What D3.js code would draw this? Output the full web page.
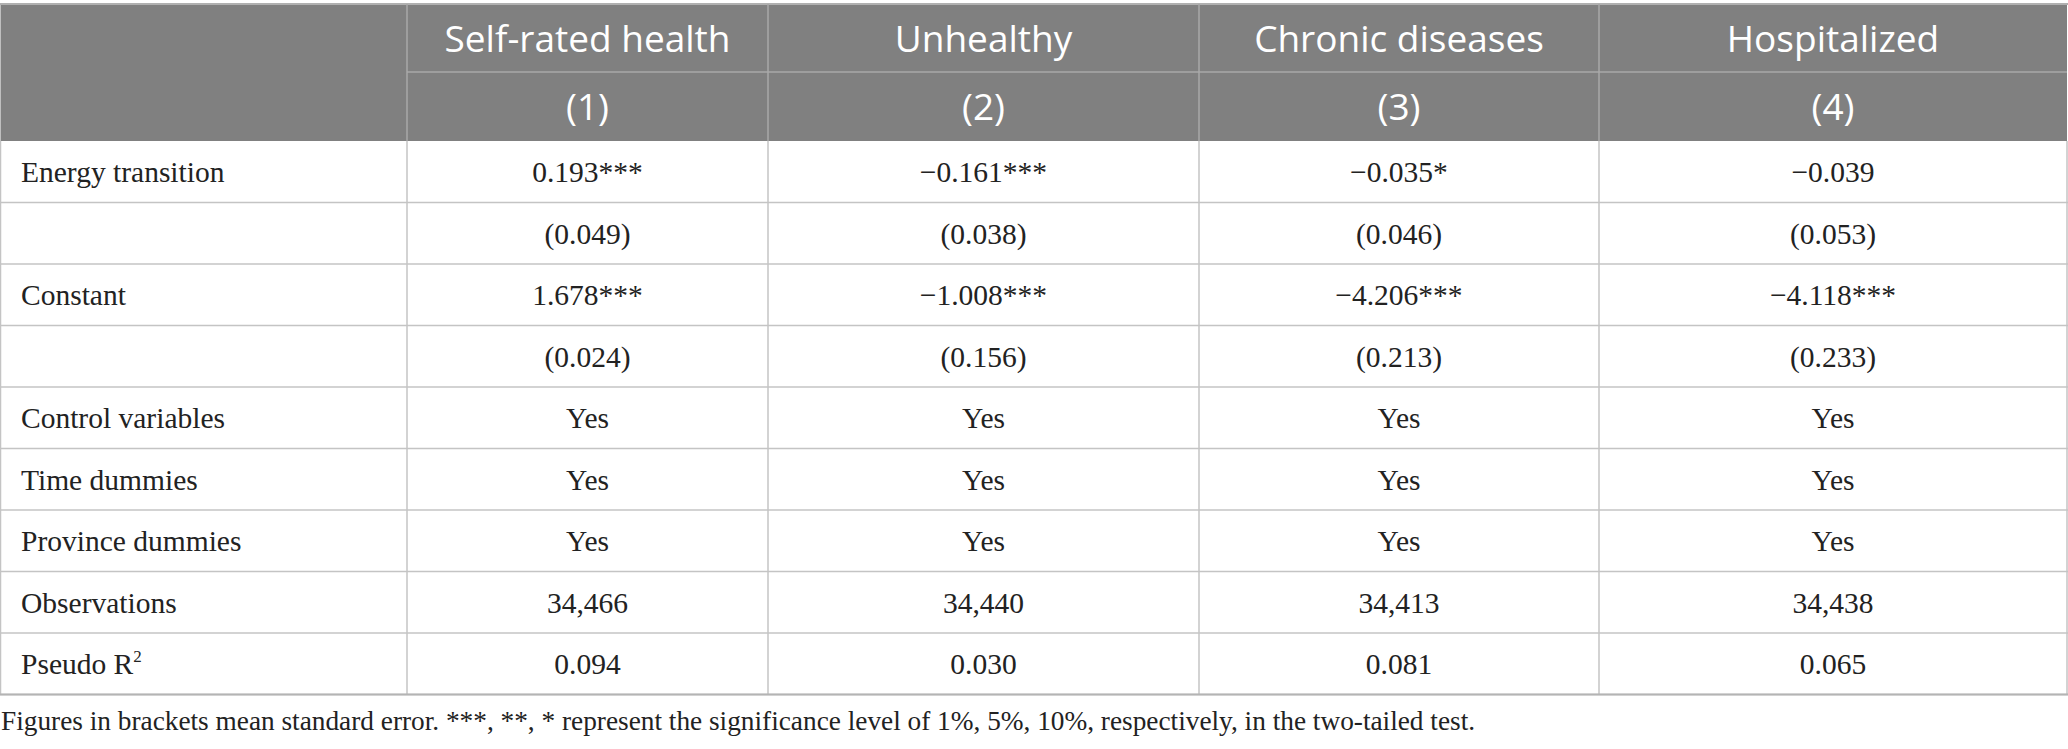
<!DOCTYPE html>
<html lang="en">
<head>
    <meta charset="UTF-8">
    <title>regression-table</title>
    <script src="https://cdn.jsdelivr.net/npm/d3@7"></script>
</head>
<body style="margin: 0; background: #fff;">
<div id="container"></div>
<script>
    // 表格数据
    const headers = ["Self-rated health", "Unhealthy", "Chronic diseases", "Hospitalized"];
    const colNums = ["(1)", "(2)", "(3)", "(4)"];
    const rowLabels = ["Energy transition", "", "Constant", "", "Control variables",
        "Time dummies", "Province dummies", "Observations", "Pseudo R"];
    const col1 = ["0.193***", "(0.049)", "1.678***", "(0.024)", "Yes", "Yes", "Yes", "34,466", "0.094"];
    const col2 = ["\u22120.161***", "(0.038)", "\u22121.008***", "(0.156)", "Yes", "Yes", "Yes", "34,440", "0.030"];
    const col3 = ["\u22120.035*", "(0.046)", "\u22124.206***", "(0.213)", "Yes", "Yes", "Yes", "34,413", "0.081"];
    const col4 = ["\u22120.039", "(0.053)", "\u22124.118***", "(0.233)", "Yes", "Yes", "Yes", "34,438", "0.065"];
    const note = "Figures in brackets mean standard error. ***, **, * represent the significance level of 1%, 5%, 10%, respectively, in the two-tailed test.";

    const width = 2068;
    const height = 749;
    const columns = [col1, col2, col3, col4];

    const svg = d3.select("#container")
        .append("svg")
        .attr("width", width)
        .attr("height", height);

    // 列边界 (第一列是标签)
    const colEdges = [0.5, 407, 768, 1199, 1599, 2067];
    const headTop = 4, headMid = 72, headBottom = 141, tableBottom = 694.5;

    const yRow = d3.scaleBand()
        .domain(d3.range(rowLabels.length))
        .range([headBottom, tableBottom]);

    const serif = "'Liberation Serif', 'DejaVu Serif', serif";
    const sans = "'Open Sans', 'Noto Sans', sans-serif";
    const bodySize = 29.5, headSize = 37;

    // 表头背景
    svg.append("rect")
        .attr("x", colEdges[0])
        .attr("y", headTop)
        .attr("width", colEdges[5] - colEdges[0])
        .attr("height", headBottom - headTop)
        .attr("fill", "#808080");

    const lines = svg.append("g");
    // 表头线
    lines.append("line")
        .attr("x1", 0).attr("x2", width)
        .attr("y1", headTop).attr("y2", headTop)
        .attr("stroke", "#b0b0b0").attr("stroke-width", 2);
    lines.append("line")
        .attr("x1", colEdges[1]).attr("x2", colEdges[5])
        .attr("y1", headMid).attr("y2", headMid)
        .attr("stroke", "#a8a8a8").attr("stroke-width", 1.5);
    colEdges.slice(1, 5).forEach(x => {
        lines.append("line")
            .attr("x1", x).attr("x2", x)
            .attr("y1", headTop).attr("y2", headBottom)
            .attr("stroke", "#a8a8a8").attr("stroke-width", 1.5);
    });

    // 数据区线
    yRow.domain().forEach(i => {
        lines.append("line")
            .attr("x1", 0).attr("x2", width)
            .attr("y1", yRow(i) + yRow.bandwidth()).attr("y2", yRow(i) + yRow.bandwidth())
            .attr("stroke", "#c4c4c4").attr("stroke-width", 1.5);
    });
    colEdges.forEach(x => {
        lines.append("line")
            .attr("x1", x).attr("x2", x)
            .attr("y1", headBottom).attr("y2", tableBottom)
            .attr("stroke", "#c4c4c4").attr("stroke-width", 1.5);
    });
    lines.append("line")
        .attr("x1", 0).attr("x2", width)
        .attr("y1", tableBottom).attr("y2", tableBottom)
        .attr("stroke", "#b4b4b4").attr("stroke-width", 2);

    // 表头文字
    const colCenter = i => (colEdges[i + 1] + colEdges[i + 2]) / 2;
    headers.forEach((h, i) => {
        svg.append("text")
            .attr("x", colCenter(i))
            .attr("y", (headTop + headMid) / 2 + 1)
            .attr("dy", "0.36em")
            .attr("text-anchor", "middle")
            .attr("font-family", sans)
            .attr("font-size", headSize)
            .attr("fill", "#fff")
            .text(h);
    });
    colNums.forEach((h, i) => {
        svg.append("text")
            .attr("x", colCenter(i))
            .attr("y", (headMid + headBottom) / 2)
            .attr("dy", "0.36em")
            .attr("text-anchor", "middle")
            .attr("font-family", sans)
            .attr("font-size", headSize)
            .attr("fill", "#fff")
            .text(h);
    });

    // 行标签
    rowLabels.forEach((label, i) => {
        const t = svg.append("text")
            .attr("x", 21)
            .attr("y", yRow(i) + yRow.bandwidth() / 2)
            .attr("dy", "0.35em")
            .attr("font-family", serif)
            .attr("font-size", bodySize)
            .attr("fill", "#222")
            .text(label);
        if (label === "Pseudo R") {
            t.append("tspan")
                .attr("font-size", 17)
                .attr("dy", "-0.7em")
                .text("2");
        }
    });

    // 单元格数值
    columns.forEach((col, c) => {
        col.forEach((v, i) => {
            svg.append("text")
                .attr("x", colCenter(c))
                .attr("y", yRow(i) + yRow.bandwidth() / 2)
                .attr("dy", "0.35em")
                .attr("text-anchor", "middle")
                .attr("font-family", serif)
                .attr("font-size", bodySize)
                .attr("fill", "#222")
                .text(v);
        });
    });

    // 注释
    svg.append("text")
        .attr("x", 1)
        .attr("y", 720)
        .attr("dy", "0.35em")
        .attr("font-family", serif)
        .attr("font-size", 27.3)
        .attr("fill", "#222")
        .text(note);
</script>
</body>
</html>
